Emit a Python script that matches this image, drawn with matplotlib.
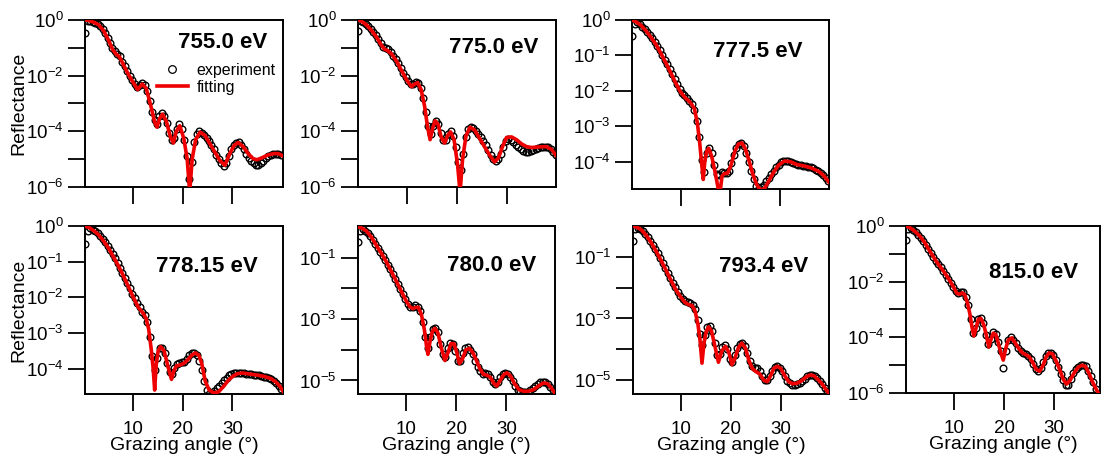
import numpy as np
import matplotlib
matplotlib.use('Agg')
import matplotlib.pyplot as plt
from matplotlib.lines import Line2D
from matplotlib.ticker import NullLocator

plt.rcParams['font.family'] = ['Liberation Sans', 'DejaVu Sans']
plt.rcParams['mathtext.fontset'] = 'custom'
plt.rcParams['mathtext.rm'] = 'Liberation Sans'
plt.rcParams['mathtext.it'] = 'Liberation Sans:italic'
plt.rcParams['mathtext.bf'] = 'Liberation Sans:bold'

# measured scan: one point every 0.5 deg
SCAN_ANGLE = np.arange(0.3, 40.0, 0.5)

# photon energies (eV)
ENERGIES = [755.0, 775.0, 777.5, 778.15, 780.0, 793.4, 815.0]
ENERGY_LABELS = ['755.0 eV', '775.0 eV', '777.5 eV', '778.15 eV', '780.0 eV', '793.4 eV', '815.0 eV']

# ---- 755.0 eV ----
EXP_755 = [-0.45, -0.03, -0.03, -0.06, -0.10, -0.14, -0.22, -0.32, -0.46, -0.63,
           -0.82, -1.00, -1.13, -1.22, -1.30, -1.50, -1.66, -1.84, -2.00, -2.15,
           -2.30, -2.40, -2.35, -2.25, -2.35, -2.55, -2.90, -3.30, -3.60, -3.75,
           -3.45, -3.35, -3.45, -3.70, -4.05, -4.30, -4.25, -3.90, -3.75, -3.90,
           -4.30, -4.90, -5.70, -5.10, -4.40, -4.10, -4.00, -4.05, -4.12, -4.25,
           -4.35, -4.50, -4.65, -4.85, -5.00, -5.15, -5.25, -5.15, -4.90, -4.65,
           -4.50, -4.42, -4.40, -4.48, -4.62, -4.80, -4.95, -5.08, -5.15, -5.20,
           -5.22, -5.15, -5.05, -4.95, -4.88, -4.85, -4.82, -4.80, -4.82, -4.85]
FIT_755_ANGLE = [0.3, 1, 2, 3, 4, 5, 5.8, 6.5, 7.2, 8, 9, 10, 10.9, 11.8, 12.6, 13.5,
                 14.3, 14.8, 15.3, 15.9, 16.7, 17.5, 18.1, 18.7, 19.4, 20.2, 20.9, 21.4,
                 21.9, 22.6, 23.5, 24.5, 25.5, 26.5, 27.5, 28.5, 29.5, 30.4, 31.2, 32.2,
                 33.2, 34.2, 35.0, 36.0, 37.2, 38.4, 39.3, 40.2]
FIT_755 = [0, -0.02, -0.08, -0.17, -0.38, -0.72, -1.05, -1.22, -1.32, -1.60, -1.95, -2.25,
           -2.50, -2.30, -2.45, -3.05, -3.65, -3.85, -3.55, -3.38, -3.65, -4.20, -4.42, -4.00,
           -3.80, -4.25, -5.00, -6.20, -5.00, -4.30, -4.03, -4.15, -4.45, -4.75, -5.05, -5.22,
           -4.80, -4.50, -4.40, -4.55, -4.80, -4.98, -5.02, -4.95, -4.85, -4.80, -4.80, -4.88]

# ---- 775.0 eV ----
EXP_775 = [-0.40, -0.05, -0.08, -0.15, -0.22, -0.32, -0.42, -0.55, -0.68, -0.84,
           -0.96, -1.02, -1.05, -1.15, -1.28, -1.40, -1.55, -1.72, -1.90, -2.05,
           -2.20, -2.30, -2.30, -2.22, -2.25, -2.45, -2.80, -3.30, -3.80, -4.10,
           -3.80, -3.62, -3.72, -4.05, -4.30, -4.30, -4.10, -4.00, -4.15, -4.55,
           -5.10, -5.40, -4.80, -4.20, -3.90, -3.85, -3.88, -3.98, -4.08, -4.20,
           -4.35, -4.50, -4.68, -4.85, -5.00, -5.08, -5.00, -4.80, -4.55, -4.35,
           -4.28, -4.30, -4.38, -4.48, -4.58, -4.65, -4.72, -4.75, -4.75, -4.72,
           -4.68, -4.63, -4.60, -4.58, -4.56, -4.55, -4.58, -4.65, -4.75, -4.85]
FIT_775_ANGLE = [0.3, 1, 2, 3, 4, 5, 5.6, 6.2, 7, 8, 9, 10, 11, 11.6, 12.2, 12.9, 13.6,
                 14.2, 14.7, 15.2, 15.7, 16.3, 16.9, 17.6, 18.2, 18.8, 19.5, 20.2, 20.7,
                 21.2, 21.9, 22.7, 23.6, 24.6, 25.6, 26.6, 27.6, 28.4, 29.2, 30.0, 31.0,
                 32.0, 33.0, 34.0, 35.0, 36.5, 38.0, 39.0, 39.9]
FIT_775 = [0, -0.05, -0.18, -0.38, -0.62, -0.92, -1.05, -1.10, -1.22, -1.48, -1.82, -2.15,
           -2.40, -2.30, -2.25, -2.50, -3.10, -3.85, -4.30, -3.90, -3.62, -3.75, -4.20, -4.42,
           -4.15, -4.02, -4.30, -5.20, -6.20, -5.00, -4.15, -3.85, -3.95, -4.25, -4.55, -4.85,
           -5.10, -4.95, -4.55, -4.22, -4.20, -4.30, -4.45, -4.55, -4.58, -4.56, -4.55, -4.65,
           -4.86]

# ---- 777.5 eV ----
EXP_7775 = [-0.45, -0.10, -0.07, -0.12, -0.19, -0.26, -0.34, -0.43, -0.52, -0.62,
            -0.73, -0.85, -0.98, -1.12, -1.25, -1.38, -1.52, -1.66, -1.80, -1.94,
            -2.05, -2.13, -2.20, -2.28, -2.38, -2.55, -2.85, -3.30, -3.95, -4.30,
            -3.75, -3.60, -3.75, -4.10, -4.35, -4.38, -4.30, -4.32, -4.33, -4.25,
            -4.05, -3.80, -3.60, -3.50, -3.48, -3.55, -3.75, -4.00, -4.25, -4.50,
            -4.68, -4.75, -4.72, -4.65, -4.55, -4.45, -4.35, -4.25, -4.15, -4.08,
            -4.02, -3.98, -3.97, -3.98, -4.00, -4.03, -4.06, -4.08, -4.10, -4.11,
            -4.12, -4.14, -4.16, -4.19, -4.22, -4.26, -4.31, -4.38, -4.46, -4.55]
FIT_7775_ANGLE = [0.2, 1, 2, 3, 4, 5, 6, 7, 8, 9, 10, 11, 12, 12.8, 13.4, 13.9, 14.3,
                  14.6, 14.9, 15.3, 15.7, 16.3, 17.0, 17.6, 18.0, 18.4, 18.9, 19.5, 20.2,
                  21.0, 21.7, 22.4, 23.0, 23.8, 24.6, 25.4, 26.2, 27.0, 27.8, 28.8, 29.8,
                  31.0, 32.2, 33.5, 35.0, 36.5, 38.0, 39.0, 40.0]
FIT_7775 = [0, -0.05, -0.15, -0.30, -0.48, -0.68, -0.93, -1.20, -1.48, -1.77, -2.03, -2.20,
            -2.33, -2.50, -2.90, -3.50, -4.10, -4.50, -4.00, -3.70, -3.62, -3.85, -4.30, -4.75,
            -4.85, -4.40, -4.33, -4.33, -4.10, -3.70, -3.50, -3.47, -3.60, -3.95, -4.35, -4.65,
            -4.80, -4.75, -4.55, -4.30, -4.10, -3.98, -4.00, -4.08, -4.12, -4.18, -4.28, -4.40,
            -4.58]

# ---- 778.15 eV ----
EXP_77815 = [-0.50, -0.15, -0.06, -0.10, -0.15, -0.21, -0.28, -0.36, -0.45, -0.55,
             -0.66, -0.78, -0.90, -1.03, -1.17, -1.31, -1.46, -1.60, -1.75, -1.90,
             -2.03, -2.15, -2.28, -2.40, -2.50, -2.70, -3.10, -3.65, -4.05, -3.70,
             -3.42, -3.42, -3.55, -3.85, -4.10, -4.15, -3.98, -3.88, -3.85, -3.82,
             -3.80, -3.72, -3.63, -3.57, -3.56, -3.62, -3.78, -4.05, -4.35, -4.60,
             -4.70, -4.68, -4.62, -4.55, -4.48, -4.40, -4.32, -4.25, -4.18, -4.14,
             -4.12, -4.11, -4.11, -4.12, -4.13, -4.14, -4.15, -4.16, -4.17, -4.18,
             -4.19, -4.20, -4.22, -4.24, -4.27, -4.30, -4.34, -4.40, -4.48, -4.58]
FIT_77815_ANGLE = [0.24, 1, 2, 3, 4, 5, 6, 7, 8, 9, 10, 11, 12, 12.6, 13.1, 13.6, 14.0,
                   14.3, 14.6, 15.0, 15.5, 16.2, 17.0, 17.7, 18.2, 18.7, 19.4, 20.2, 21.0,
                   21.8, 22.5, 23.2, 23.8, 24.5, 25.3, 26.2, 27.2, 28.2, 29.2, 30.2, 31.0,
                   32.0, 33.5, 35.0, 36.5, 37.8, 38.8, 39.6, 40.2]
FIT_77815 = [0, -0.04, -0.13, -0.25, -0.42, -0.62, -0.87, -1.12, -1.40, -1.70, -2.00, -2.28,
             -2.45, -2.60, -2.90, -3.45, -4.00, -4.60, -3.90, -3.50, -3.38, -3.50, -3.95, -4.30,
             -4.05, -3.92, -3.90, -3.85, -3.75, -3.62, -3.56, -3.62, -3.85, -4.35, -4.60, -4.68,
             -4.65, -4.50, -4.32, -4.20, -4.14, -4.12, -4.15, -4.18, -4.22, -4.28, -4.38, -4.50,
             -4.63]

# ---- 780.0 eV ----
EXP_780 = [-0.50, -0.12, -0.06, -0.12, -0.20, -0.30, -0.42, -0.55, -0.68, -0.81,
           -0.94, -1.08, -1.23, -1.38, -1.54, -1.70, -1.85, -2.02, -2.18, -2.34,
           -2.50, -2.60, -2.60, -2.55, -2.60, -2.75, -3.10, -3.60, -3.95, -3.60,
           -3.32, -3.28, -3.42, -3.80, -4.15, -4.25, -3.95, -3.78, -3.80, -4.05,
           -4.35, -4.35, -4.10, -3.95, -3.92, -4.00, -4.15, -4.35, -4.55, -4.70,
           -4.78, -4.75, -4.78, -4.90, -5.05, -5.12, -5.05, -4.90, -4.78, -4.74,
           -4.78, -4.88, -5.02, -5.18, -5.30, -5.35, -5.38, -5.38, -5.36, -5.32,
           -5.26, -5.18, -5.10, -5.05, -5.04, -5.06, -5.12, -5.20, -5.30, -5.42]
FIT_780_ANGLE = [0.33, 1, 2, 3, 4, 5, 6, 7, 8, 9, 10, 10.7, 11.3, 11.9, 12.4, 13.0, 13.6,
                 14.0, 14.3, 14.7, 15.2, 15.7, 16.3, 17.0, 17.7, 18.3, 18.9, 19.5, 20.1,
                 20.6, 21.2, 21.9, 22.6, 23.3, 24.0, 24.7, 25.4, 26.0, 26.8, 27.5, 28.1,
                 28.8, 29.5, 30.1, 30.8, 31.6, 32.5, 33.4, 34.4, 35.4, 36.4, 37.4, 38.2,
                 39.0, 39.7]
FIT_780 = [0.01, -0.03, -0.13, -0.33, -0.60, -0.86, -1.14, -1.45, -1.77, -2.10, -2.42,
           -2.60, -2.66, -2.62, -2.62, -2.85, -3.35, -3.85, -4.15, -3.75, -3.40, -3.30,
           -3.45, -3.95, -4.35, -4.10, -3.80, -3.80, -4.10, -4.45, -4.30, -4.00, -3.95,
           -4.10, -4.35, -4.62, -4.80, -4.82, -4.90, -5.10, -5.18, -4.98, -4.80, -4.75,
           -4.85, -5.10, -5.30, -5.35, -5.35, -5.30, -5.18, -5.08, -5.10, -5.25, -5.42]

# ---- 793.4 eV ----
EXP_7934 = [-0.50, -0.10, -0.05, -0.10, -0.17, -0.27, -0.37, -0.49, -0.61, -0.75,
            -0.89, -1.04, -1.20, -1.36, -1.52, -1.68, -1.84, -1.99, -2.13, -2.26,
            -2.36, -2.43, -2.48, -2.50, -2.55, -2.70, -3.05, -3.50, -3.85, -3.55,
            -3.28, -3.25, -3.42, -3.80, -4.20, -4.15, -3.92, -3.85, -3.98, -4.30,
            -4.40, -4.20, -3.95, -3.82, -3.80, -3.90, -4.12, -4.38, -4.55, -4.60,
            -4.62, -4.72, -4.88, -5.00, -4.98, -4.85, -4.70, -4.58, -4.55, -4.60,
            -4.72, -4.88, -5.02, -5.10, -5.15, -5.15, -5.12, -5.08, -5.02, -4.95,
            -4.88, -4.83, -4.82, -4.86, -4.94, -5.04, -5.13, -5.24, -5.34, -5.45]
FIT_7934_ANGLE = [0.4, 1, 2, 3, 4, 5, 6, 7, 8, 9, 10, 10.8, 11.5, 12.2, 12.8, 13.4, 13.8,
                  14.2, 14.6, 15.0, 15.5, 16.1, 16.8, 17.5, 18.2, 18.9, 19.6, 20.2, 20.8,
                  21.5, 22.2, 22.9, 23.6, 24.3, 25.0, 25.8, 26.6, 27.3, 28.0, 28.6, 29.3,
                  30.0, 30.8, 31.6, 32.4, 33.3, 34.2, 35.1, 35.9, 36.7, 37.5, 38.3, 39.0,
                  39.7]
FIT_7934 = [0, -0.03, -0.12, -0.30, -0.54, -0.82, -1.12, -1.44, -1.77, -2.08, -2.32, -2.48,
            -2.55, -2.58, -2.75, -3.20, -3.70, -4.45, -3.80, -3.45, -3.27, -3.40, -3.90, -4.42,
            -4.05, -3.90, -4.10, -4.50, -4.30, -3.95, -3.80, -3.95, -4.35, -4.62, -4.72, -4.80,
            -5.00, -5.05, -4.85, -4.62, -4.55, -4.62, -4.85, -5.05, -5.12, -5.10, -5.02, -4.90,
            -4.83, -4.86, -4.98, -5.12, -5.28, -5.43]

# ---- 815.0 eV ----
EXP_815 = [-0.50, -0.12, -0.08, -0.15, -0.23, -0.32, -0.42, -0.54, -0.67, -0.82,
           -0.97, -1.10, -1.24, -1.36, -1.49, -1.62, -1.75, -1.89, -2.03, -2.18,
           -2.33, -2.40, -2.38, -2.38, -2.55, -2.85, -3.35, -3.85, -3.65, -3.35,
           -3.30, -3.50, -3.90, -4.25, -4.05, -3.82, -3.88, -4.15, -4.50, -5.10,
           -4.50, -4.10, -4.00, -4.08, -4.22, -4.38, -4.50, -4.56, -4.60, -4.66,
           -4.78, -4.95, -5.15, -5.20, -5.10, -4.90, -4.68, -4.55, -4.55, -4.65,
           -4.82, -5.05, -5.30, -5.55, -5.72, -5.72, -5.50, -5.28, -5.12, -5.05,
           -5.00, -4.98, -5.03, -5.20, -5.40, -5.62, -5.85, -6.05, -6.30, -6.50]
FIT_815_ANGLE = [0.3, 1, 2, 3, 4, 5, 5.7, 6.4, 7.1, 7.8, 8.5, 9.2, 9.9, 10.5, 11.1, 11.6,
                 12.1, 12.6, 13.1, 13.5, 13.9, 14.3, 14.8, 15.3, 15.9, 16.5, 16.9, 17.3,
                 17.8, 18.3, 18.8, 19.3, 19.8, 20.3, 20.8, 21.5, 22.2, 22.9, 23.6, 24.3,
                 25.0, 25.7, 26.4, 27.1, 27.8, 28.4, 29.0, 29.7, 30.4, 31.1, 31.8, 32.5,
                 33.2, 34.0, 34.8, 35.6, 36.3, 37.0, 37.7, 38.4, 39.0, 39.4]
FIT_815 = [0, -0.05, -0.18, -0.35, -0.58, -0.88, -1.08, -1.28, -1.45, -1.62, -1.80, -2.00,
           -2.22, -2.42, -2.45, -2.40, -2.48, -2.75, -3.15, -3.60, -3.95, -3.70, -3.35, -3.32,
           -3.55, -4.00, -4.35, -4.10, -3.85, -3.90, -4.20, -4.55, -4.82, -4.40, -4.10, -4.02,
           -4.20, -4.40, -4.55, -4.62, -4.70, -4.90, -5.15, -5.22, -5.00, -4.70, -4.56, -4.60,
           -4.85, -5.15, -5.50, -5.68, -5.55, -5.28, -5.08, -5.00, -5.05, -5.30, -5.60, -5.85,
           -6.05, -6.30]

W, H = 1101, 461

# box in pixels (left, top, right, bottom), x range, log10 y range, y tick decades, labelled decades
panels = [
    (EXP_755, FIT_755_ANGLE, FIT_755, (85, 20, 283, 187), (0.25, 40.25), (-6, 0),
     range(0, -7, -1), [0, -2, -4, -6]),
    (EXP_775, FIT_775_ANGLE, FIT_775, (358, 20, 556, 187), (0.27, 39.9), (-6, 0),
     range(0, -7, -1), [0, -2, -4, -6]),
    (EXP_7775, FIT_7775_ANGLE, FIT_7775, (632, 20, 829, 189), (0.2, 40.0), (-4.77, 0),
     range(0, -5, -1), [0, -1, -2, -3, -4]),
    (EXP_77815, FIT_77815_ANGLE, FIT_77815, (85, 226, 283, 394), (0.24, 40.2), (-4.71, 0),
     range(0, -5, -1), [0, -1, -2, -3, -4]),
    (EXP_780, FIT_780_ANGLE, FIT_780, (358, 226, 555, 394), (0.33, 39.7), (-5.44, 0.03),
     range(-1, -6, -1), [-1, -3, -5]),
    (EXP_7934, FIT_7934_ANGLE, FIT_7934, (633, 226, 829, 394), (0.35, 39.7), (-5.45, 0.0),
     range(-1, -6, -1), [-1, -3, -5]),
    (EXP_815, FIT_815_ANGLE, FIT_815, (906, 226, 1100, 393), (0.3, 39.2), (-6, 0),
     range(0, -7, -1), [0, -2, -4, -6]),
]

# energy label spot (axes fraction, right edge / baseline)
label_pos = [(0.918, 0.834), (0.909, 0.804), (0.868, 0.783), (0.874, 0.727),
             (0.907, 0.734), (0.894, 0.724), (0.888, 0.687)]

fig = plt.figure(figsize=(W / 100, H / 100), dpi=100)

for i, (exp, fang, fit, box, xlim, ylim, decs, labelled) in enumerate(panels):
    l, t, r, b = box
    ax = fig.add_axes([l / W, 1 - b / H, (r - l) / W, (b - t) / H])
    ax.plot(SCAN_ANGLE, 10.0 ** np.array(exp), 'o', ms=4.8, mfc='none', mec='black',
            mew=1.0, zorder=2)
    ax.plot(fang, 10.0 ** np.array(fit), '-', color='#ee0000', lw=2.6, zorder=3)
    ax.set_yscale('log')
    ax.set_xlim(*xlim)
    ax.set_ylim(10.0 ** ylim[0], 10.0 ** ylim[1])

    decs = list(decs)
    ax.set_yticks([10.0 ** d for d in decs])
    ax.set_yticklabels([r'$\mathdefault{10^{%d}}$' % d if d in labelled else '' for d in decs])
    ax.yaxis.set_minor_locator(NullLocator())
    ax.set_xticks([10, 20, 30])
    ax.xaxis.set_minor_locator(NullLocator())

    ax.tick_params(direction='out', length=12.5, width=1.3, labelsize=13.5)
    ax.tick_params(axis='y', pad=3)
    ax.tick_params(axis='x', pad=7)
    for sp in ax.spines.values():
        sp.set_linewidth(1.4)

    bottom_row = i >= 3
    if not bottom_row:
        ax.set_xticklabels([])
    else:
        ax.set_xlabel('Grazing angle (°)', fontsize=14)
        ax.xaxis.set_label_coords(0.5, -0.258)
    if i in (0, 3):
        ax.set_ylabel('Reflectance', fontsize=14)
        ax.yaxis.set_label_coords(-0.29, 0.5)

    lx, ly = label_pos[i]
    ax.text(lx, ly, ENERGY_LABELS[i], transform=ax.transAxes, ha='right', va='baseline',
            fontsize=16, fontweight='bold')

    if i == 0:
        handles = [Line2D([], [], ls='none', marker='o', ms=5.5, mfc='none', mec='black', mew=0.9),
                   Line2D([], [], color='#ee0000', lw=2.6)]
        ax.legend(handles, ['experiment', 'fitting'], loc='upper left',
                  bbox_to_anchor=(0.365, 0.745), frameon=False, fontsize=11.5,
                  handlelength=1.9, handletextpad=0.55, labelspacing=0.12, borderpad=0,
                  borderaxespad=0)

fig.savefig('out.png', dpi=100)
